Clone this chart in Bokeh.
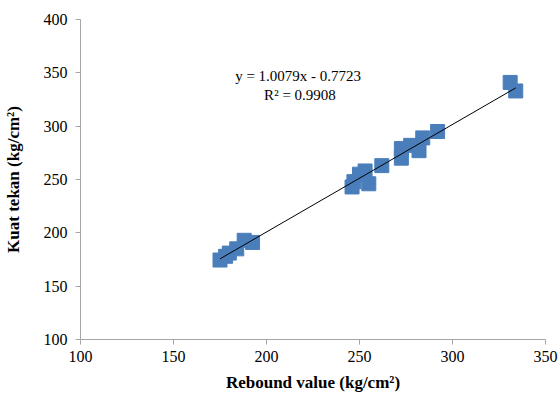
from bokeh.plotting import figure
from bokeh.models import Range1d, Label
from bokeh.embed import file_html
from bokeh.resources import INLINE

rebound = [175, 178, 180, 184, 188, 192.5, 246, 247, 250, 253, 255, 262, 272.5, 272.5, 277.5, 282, 284, 292, 331, 334]
kuat = [174.5, 178, 181, 185, 193, 191, 243, 248, 255, 258, 246, 263, 279, 270, 282, 277, 289, 295, 341, 333]
slope = 1.0079
intercept = -0.7723
eq_text = "y = 1.0079x  - 0.7723"
r2_text = "R² = 0.9908"

p = figure(width=559, height=394, output_backend="svg", toolbar_location=None,
           x_range=Range1d(100, 350), y_range=Range1d(100, 400),
           min_border_left=80, min_border_right=14, min_border_top=19, min_border_bottom=55)
p.outline_line_color = None
p.xgrid.visible = False
p.ygrid.visible = False
p.background_fill_color = "white"

for ax in (p.xaxis, p.yaxis):
    ax.axis_line_color = "#A6A6A6"
    ax.major_tick_line_color = "#A6A6A6"
    ax.minor_tick_line_color = None
    ax.major_tick_in = 0
    ax.major_tick_out = 5
    ax.major_label_text_font = "Liberation Serif"
    ax.major_label_text_font_size = "16px"
    ax.major_label_text_color = "black"
    ax.axis_label_text_font = "Liberation Serif"
    ax.axis_label_text_font_size = "17px"
    ax.axis_label_text_font_style = "bold"
    ax.axis_label_text_color = "black"

p.xaxis.ticker = [100, 150, 200, 250, 300, 350]
p.yaxis.ticker = [100, 150, 200, 250, 300, 350, 400]
p.xaxis.axis_label = "Rebound value (kg/cm²)"
p.yaxis.axis_label = "Kuat tekan (kg/cm²)"
p.xaxis.major_label_standoff = 6
p.yaxis.major_label_standoff = 8
p.xaxis.axis_label_standoff = 8
p.yaxis.axis_label_standoff = 18

p.scatter(rebound, kuat, marker="square", size=14, fill_color="#4A7EBB", line_color="#4A7EBB")

x0, x1 = min(rebound), max(rebound)
p.line([x0, x1], [slope * x0 + intercept, slope * x1 + intercept], line_color="black", line_width=1)

p.add_layout(Label(x=218, y=347, text=eq_text, text_font="Liberation Serif", text_font_size="15px",
                   text_align="center", text_baseline="middle", text_color="black"))
p.add_layout(Label(x=218, y=329, text=r2_text, text_font="Liberation Serif", text_font_size="15px",
                   text_align="center", text_baseline="middle", text_color="black"))

open("out.html", "w").write(file_html(p, INLINE))
